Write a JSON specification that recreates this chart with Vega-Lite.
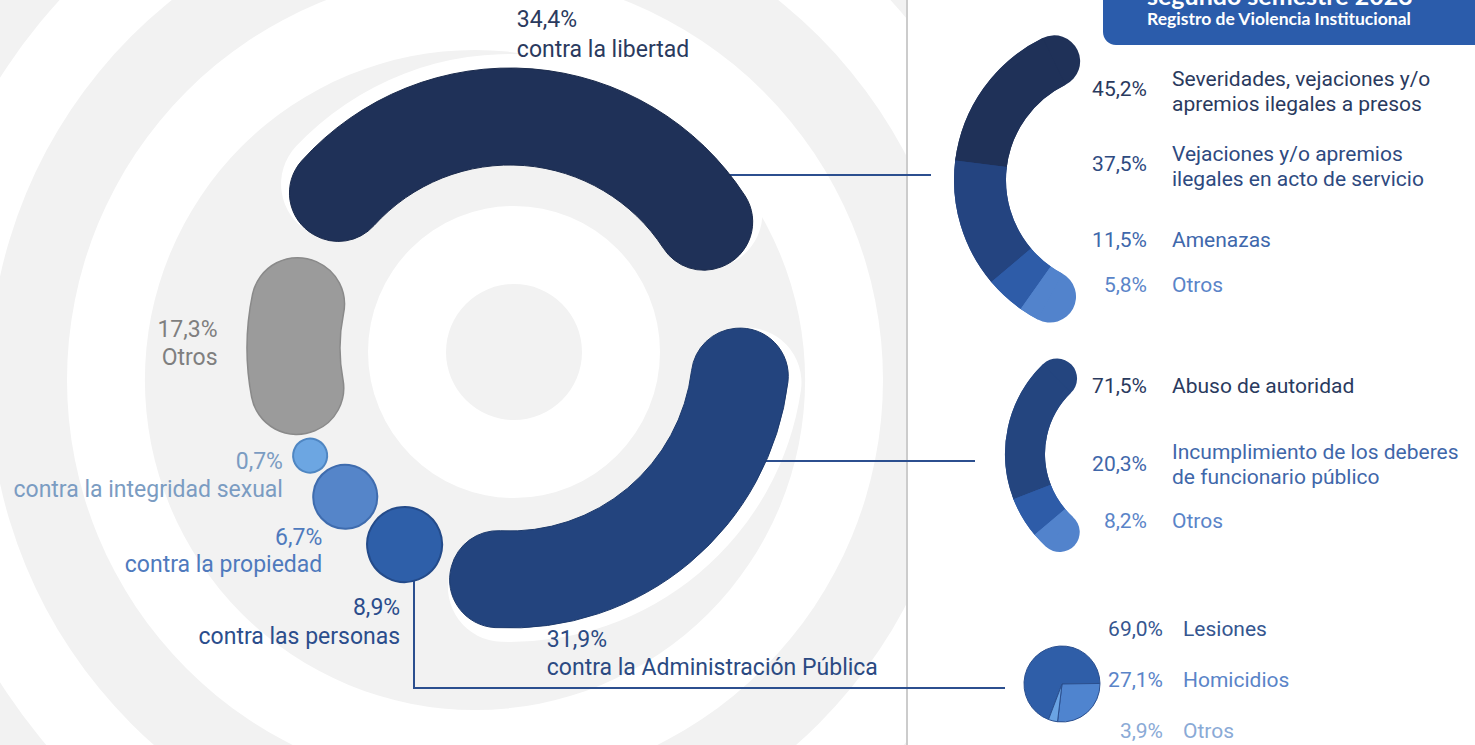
{
  "$schema": "https://vega.github.io/schema/vega-lite/v6.json",
  "width": 1475,
  "height": 745,
  "padding": 0,
  "autosize": {"type": "none"},
  "background": "#f2f2f2",
  "config": {
    "view": {"stroke": null},
    "font": "Roboto",
    "locale": {"number": {"decimal": ",", "thousands": ".", "grouping": [3], "currency": ["$", ""]}}
  },
  "datasets": {
    "principal": [
      {"categoria": "contra la libertad", "pct": 0.344},
      {"categoria": "contra la Administración Pública", "pct": 0.319},
      {"categoria": "contra las personas", "pct": 0.089},
      {"categoria": "contra la propiedad", "pct": 0.067},
      {"categoria": "contra la integridad sexual", "pct": 0.007},
      {"categoria": "Otros", "pct": 0.173}
    ],
    "detalle": [
      {"grupo": "contra la libertad", "categoria": "Severidades, vejaciones y/o\napremios ilegales a presos", "pct": 0.452},
      {"grupo": "contra la libertad", "categoria": "Vejaciones y/o apremios\nilegales en acto de servicio", "pct": 0.375},
      {"grupo": "contra la libertad", "categoria": "Amenazas", "pct": 0.115},
      {"grupo": "contra la libertad", "categoria": "Otros", "pct": 0.058},
      {"grupo": "contra la Administración Pública", "categoria": "Abuso de autoridad", "pct": 0.715},
      {"grupo": "contra la Administración Pública", "categoria": "Incumplimiento de los deberes\nde funcionario público", "pct": 0.203},
      {"grupo": "contra la Administración Pública", "categoria": "Otros", "pct": 0.082},
      {"grupo": "contra las personas", "categoria": "Lesiones", "pct": 0.69},
      {"grupo": "contra las personas", "categoria": "Homicidios", "pct": 0.271},
      {"grupo": "contra las personas", "categoria": "Otros", "pct": 0.039}
    ]
  },
  "layer": [
    {"data": {"values": [{}]}, "mark": {"type": "arc", "x": 475, "y": 380, "radius": 408, "radius2": 330, "theta": 0, "theta2": 6.2832, "fill": "#ffffff"}, "encoding": {}},
    {"data": {"values": [{}]}, "mark": {"type": "arc", "x": 475, "y": 380, "radius": 563, "radius2": 486, "theta": 0, "theta2": 6.2832, "fill": "#ffffff"}, "encoding": {}},
    {"data": {"values": [{}]}, "mark": {"type": "arc", "x": 475, "y": 380, "radius": 717, "radius2": 640, "theta": 0, "theta2": 6.2832, "fill": "#ffffff"}, "encoding": {}},
    {"data": {"values": [{}]}, "mark": {"type": "arc", "x": 475, "y": 380, "radius": 871, "radius2": 794, "theta": 0, "theta2": 6.2832, "fill": "#ffffff"}, "encoding": {}},
    {"data": {"values": [{}]}, "mark": {"type": "arc", "x": 514, "y": 352, "radius": 146, "radius2": 68, "theta": 0, "theta2": 6.2832, "fill": "#ffffff"}, "encoding": {}},
    {"data": {"values": [{}]}, "mark": {"type": "rect", "x": 908, "x2": 1475, "y": 0, "y2": 745, "fill": "#ffffff"}, "encoding": {}},
    {"data": {"values": [{}]}, "mark": {"type": "rect", "x": 906, "x2": 908, "y": 0, "y2": 745, "fill": "#cccccc"}, "encoding": {}},
    {"data": {"values": [{}]}, "mark": {"type": "rect", "x": 1103, "x2": 1495, "y": -30, "y2": 45, "cornerRadius": 13, "fill": "#2b5cab"}, "encoding": {}},
    {"data": {"values": [{}]}, "mark": {"type": "text", "x": 1147, "y": 5, "align": "left", "baseline": "alphabetic", "text": "segundo semestre 2023", "font": "Lato", "fontWeight": "bold", "fontSize": 25, "fill": "#ffffff"}, "encoding": {}},
    {"data": {"values": [{}]}, "mark": {"type": "text", "x": 1147, "y": 20, "align": "left", "baseline": "middle", "text": "Registro de Violencia Institucional", "font": "Lato", "fontWeight": "bold", "fontSize": 17.5, "fill": "#ffffff"}, "encoding": {}},
    {
      "data": {"name": "principal"},
      "transform": [{"window": [{"op": "row_number", "as": "orden"}]}],
      "mark": {"type": "arc", "x": 510, "y": 348, "radius": 294, "radius2": 183, "cornerRadius": 55, "fill": "#ffffff"},
      "encoding": {
        "theta": {"field": "pct", "type": "quantitative", "stack": true, "scale": {"domain": [0, 1], "range": [5.2360, 11.7810]}},
        "order": {"field": "orden", "type": "quantitative"},
        "opacity": {"condition": {"test": "datum.categoria === 'contra la libertad'", "value": 1}, "value": 0}
      }
    },
    {
      "data": {"name": "principal"},
      "transform": [{"window": [{"op": "row_number", "as": "orden"}]}],
      "mark": {"type": "arc", "x": 510, "y": 348, "radius": 294, "radius2": 183, "cornerRadius": 55, "fill": "#ffffff"},
      "encoding": {
        "theta": {"field": "pct", "type": "quantitative", "stack": true, "scale": {"domain": [0, 1], "range": [-0.5864, 5.4315]}},
        "order": {"field": "orden", "type": "quantitative"},
        "opacity": {"condition": {"test": "datum.categoria === 'contra la Administración Pública'", "value": 1}, "value": 0}
      }
    },
    {"data": {"values": [{}]}, "mark": {"type": "rect", "x": 700, "x2": 931, "y": 174, "y2": 176, "fill": "#2c4f8f"}, "encoding": {}},
    {"data": {"values": [{}]}, "mark": {"type": "rect", "x": 740, "x2": 975, "y": 460, "y2": 462, "fill": "#2c4f8f"}, "encoding": {}},
    {"data": {"values": [{}]}, "mark": {"type": "rect", "x": 413, "x2": 415, "y": 560, "y2": 689, "fill": "#2c4f8f"}, "encoding": {}},
    {"data": {"values": [{}]}, "mark": {"type": "rect", "x": 413, "x2": 1005, "y": 687, "y2": 689, "fill": "#2c4f8f"}, "encoding": {}},
    {
      "data": {"name": "principal"},
      "transform": [{"window": [{"op": "row_number", "as": "orden"}]}],
      "mark": {"type": "arc", "x": 510, "y": 348, "radius": 280, "radius2": 183, "cornerRadius": 48, "stroke": "#1a2a4c", "strokeWidth": 1},
      "encoding": {
        "theta": {"field": "pct", "type": "quantitative", "stack": true, "scale": {"domain": [0, 1], "range": [5.2360, 11.7810]}},
        "order": {"field": "orden", "type": "quantitative"},
        "color": {"value": "#1f3158"},
        "opacity": {"condition": {"test": "datum.categoria === 'contra la libertad'", "value": 1}, "value": 0}
      }
    },
    {
      "data": {"name": "principal"},
      "transform": [{"window": [{"op": "row_number", "as": "orden"}]}],
      "mark": {"type": "arc", "x": 510, "y": 348, "radius": 280, "radius2": 183, "cornerRadius": 48, "stroke": "#1d3a6c", "strokeWidth": 1},
      "encoding": {
        "theta": {"field": "pct", "type": "quantitative", "stack": true, "scale": {"domain": [0, 1], "range": [-0.5864, 5.4315]}},
        "order": {"field": "orden", "type": "quantitative"},
        "color": {"value": "#23447e"},
        "opacity": {"condition": {"test": "datum.categoria === 'contra la Administración Pública'", "value": 1}, "value": 0}
      }
    },
    {
      "data": {"name": "principal"},
      "transform": [{"window": [{"op": "row_number", "as": "orden"}]}],
      "mark": {"type": "arc", "x": 510, "y": 348, "radius": 263, "radius2": 170, "cornerRadius": 46, "stroke": "#8a8a8a", "strokeWidth": 1.5},
      "encoding": {
        "theta": {"field": "pct", "type": "quantitative", "stack": true, "scale": {"domain": [0, 1], "range": [0.3944, 5.1365]}},
        "order": {"field": "orden", "type": "quantitative"},
        "color": {"value": "#9b9b9b"},
        "opacity": {"condition": {"test": "datum.categoria === 'Otros'", "value": 1}, "value": 0}
      }
    },
    {
      "data": {"name": "principal"},
      "transform": [{"filter": "datum.categoria === 'contra las personas'"}],
      "mark": {"type": "arc", "x": 510, "y": 348, "radius": 260.5, "radius2": 185.5, "cornerRadius": 37.5, "fill": "#2e5fa9", "stroke": "#244b8a", "strokeWidth": 2},
      "encoding": {
        "theta": {"field": "pct", "type": "quantitative", "stack": true, "scale": {"domain": [0, 0.089], "range": [3.4648, 3.8027]}}
      }
    },
    {
      "data": {"name": "principal"},
      "transform": [{"filter": "datum.categoria === 'contra la propiedad'"}],
      "mark": {"type": "arc", "x": 510, "y": 348, "radius": 254, "radius2": 190, "cornerRadius": 32, "fill": "#5585c9", "stroke": "#3f6cae", "strokeWidth": 2},
      "encoding": {
        "theta": {"field": "pct", "type": "quantitative", "stack": true, "scale": {"domain": [0, 0.067], "range": [3.833, 4.1225]}}
      }
    },
    {
      "data": {"name": "principal"},
      "transform": [{"filter": "datum.categoria === 'contra la integridad sexual'"}],
      "mark": {"type": "arc", "x": 510, "y": 348, "radius": 244, "radius2": 210, "cornerRadius": 17, "fill": "#6ca6e2", "stroke": "#4f86c2", "strokeWidth": 2},
      "encoding": {
        "theta": {"field": "pct", "type": "quantitative", "stack": true, "scale": {"domain": [0, 0.007], "range": [4.1434, 4.2935]}}
      }
    },
    {
      "data": {"name": "principal"},
      "transform": [{"filter": "datum.categoria === 'Otros'"}],
      "mark": {"type": "text", "x": 510, "y": 348, "radius": 293, "align": "right", "baseline": "middle", "fontSize": 23, "fill": "#7f7f7f"},
      "encoding": {
        "theta": {"field": "pct", "type": "quantitative", "stack": true, "scale": {"domain": [0, 1], "range": [4.2307, 10.5139]}},
        "text": {"field": "pct", "type": "quantitative", "format": ".1%"}
      }
    },
    {
      "data": {"name": "principal"},
      "transform": [{"filter": "datum.categoria === 'Otros'"}],
      "mark": {"type": "text", "x": 510, "y": 348, "radius": 293, "dy": 28, "align": "right", "baseline": "middle", "fontSize": 23, "fill": "#7f7f7f"},
      "encoding": {
        "theta": {"field": "pct", "type": "quantitative", "stack": true, "scale": {"domain": [0, 1], "range": [4.2307, 10.5139]}},
        "text": {"field": "categoria", "type": "nominal"}
      }
    },
    {
      "data": {"name": "principal"},
      "transform": [{"filter": "datum.categoria === 'contra la integridad sexual'"}],
      "mark": {"type": "text", "x": 510, "y": 348, "radius": 254, "align": "right", "baseline": "middle", "fontSize": 23, "fill": "#7b9cc2"},
      "encoding": {
        "theta": {"field": "pct", "type": "quantitative", "stack": true, "scale": {"domain": [0, 1], "range": [4.2254, 10.5086]}},
        "text": {"field": "pct", "type": "quantitative", "format": ".1%"}
      }
    },
    {
      "data": {"name": "principal"},
      "transform": [{"filter": "datum.categoria === 'contra la integridad sexual'"}],
      "mark": {"type": "text", "x": 510, "y": 348, "radius": 254, "dy": 28, "align": "right", "baseline": "middle", "fontSize": 23, "fill": "#7b9cc2"},
      "encoding": {
        "theta": {"field": "pct", "type": "quantitative", "stack": true, "scale": {"domain": [0, 1], "range": [4.2254, 10.5086]}},
        "text": {"field": "categoria", "type": "nominal"}
      }
    },
    {
      "data": {"name": "principal"},
      "transform": [{"filter": "datum.categoria === 'contra la propiedad'"}],
      "mark": {"type": "text", "x": 510, "y": 348, "radius": 267, "align": "right", "baseline": "middle", "fontSize": 23, "fill": "#4f7abd"},
      "encoding": {
        "theta": {"field": "pct", "type": "quantitative", "stack": true, "scale": {"domain": [0, 1], "range": [3.7106, 9.9938]}},
        "text": {"field": "pct", "type": "quantitative", "format": ".1%"}
      }
    },
    {
      "data": {"name": "principal"},
      "transform": [{"filter": "datum.categoria === 'contra la propiedad'"}],
      "mark": {"type": "text", "x": 510, "y": 348, "radius": 267, "dy": 27, "align": "right", "baseline": "middle", "fontSize": 23, "fill": "#4f7abd"},
      "encoding": {
        "theta": {"field": "pct", "type": "quantitative", "stack": true, "scale": {"domain": [0, 1], "range": [3.7106, 9.9938]}},
        "text": {"field": "categoria", "type": "nominal"}
      }
    },
    {
      "data": {"name": "principal"},
      "transform": [{"filter": "datum.categoria === 'contra las personas'"}],
      "mark": {"type": "text", "x": 510, "y": 348, "radius": 282, "align": "right", "baseline": "middle", "fontSize": 23, "fill": "#2b4d8c"},
      "encoding": {
        "theta": {"field": "pct", "type": "quantitative", "stack": true, "scale": {"domain": [0, 1], "range": [3.262, 9.5452]}},
        "text": {"field": "pct", "type": "quantitative", "format": ".1%"}
      }
    },
    {
      "data": {"name": "principal"},
      "transform": [{"filter": "datum.categoria === 'contra las personas'"}],
      "mark": {"type": "text", "x": 510, "y": 348, "radius": 282, "dy": 29, "align": "right", "baseline": "middle", "fontSize": 23, "fill": "#2b4d8c"},
      "encoding": {
        "theta": {"field": "pct", "type": "quantitative", "stack": true, "scale": {"domain": [0, 1], "range": [3.262, 9.5452]}},
        "text": {"field": "categoria", "type": "nominal"}
      }
    },
    {
      "data": {"name": "principal"},
      "transform": [{"filter": "datum.categoria === 'contra la libertad'"}],
      "mark": {"type": "text", "x": 510, "y": 348, "radius": 328, "align": "left", "baseline": "middle", "fontSize": 23, "fill": "#2a3a5e"},
      "encoding": {
        "theta": {"field": "pct", "type": "quantitative", "stack": true, "scale": {"domain": [0, 1], "range": [-1.0598, 5.2234]}},
        "text": {"field": "pct", "type": "quantitative", "format": ".1%"}
      }
    },
    {
      "data": {"name": "principal"},
      "transform": [{"filter": "datum.categoria === 'contra la libertad'"}],
      "mark": {"type": "text", "x": 510, "y": 348, "radius": 328, "dy": 30, "align": "left", "baseline": "middle", "fontSize": 23, "fill": "#2a3a5e"},
      "encoding": {
        "theta": {"field": "pct", "type": "quantitative", "stack": true, "scale": {"domain": [0, 1], "range": [-1.0598, 5.2234]}},
        "text": {"field": "categoria", "type": "nominal"}
      }
    },
    {
      "data": {"name": "principal"},
      "transform": [{"filter": "datum.categoria === 'contra la Administración Pública'"}],
      "mark": {"type": "text", "x": 510, "y": 348, "radius": 294, "align": "left", "baseline": "middle", "fontSize": 23, "fill": "#2b4a82"},
      "encoding": {
        "theta": {"field": "pct", "type": "quantitative", "stack": true, "scale": {"domain": [0, 1], "range": [2.0138, 8.297]}},
        "text": {"field": "pct", "type": "quantitative", "format": ".1%"}
      }
    },
    {
      "data": {"name": "principal"},
      "transform": [{"filter": "datum.categoria === 'contra la Administración Pública'"}],
      "mark": {"type": "text", "x": 510, "y": 348, "radius": 294, "dy": 28, "align": "left", "baseline": "middle", "fontSize": 23, "fill": "#2b4a82"},
      "encoding": {
        "theta": {"field": "pct", "type": "quantitative", "stack": true, "scale": {"domain": [0, 1], "range": [2.0138, 8.297]}},
        "text": {"field": "categoria", "type": "nominal"}
      }
    },
    {
      "data": {"name": "detalle"},
      "transform": [{"filter": "datum.grupo === 'contra la libertad'"}, {"window": [{"op": "row_number", "as": "orden"}]}],
      "mark": {"type": "arc", "x": 1112, "y": 180, "radius": 132, "radius2": 132, "filled": false, "strokeWidth": 52, "strokeJoin": "round"},
      "encoding": {
        "theta": {"field": "pct", "type": "quantitative", "stack": true, "scale": {"domain": [0, 1], "range": [5.8294, 3.6303]}},
        "order": {"field": "orden", "type": "quantitative"},
        "color": {"field": "categoria", "type": "nominal", "scale": {"domain": ["Severidades, vejaciones y/o\napremios ilegales a presos", "Vejaciones y/o apremios\nilegales en acto de servicio", "Amenazas", "Otros"], "range": ["#1f3158", "#244480", "#2e5ca8", "#5283cc"]}, "legend": null}
      }
    },
    {
      "data": {"name": "detalle"},
      "transform": [{"filter": "datum.grupo === 'contra la libertad'"}, {"window": [{"op": "row_number", "as": "orden"}]}],
      "mark": {"type": "arc", "x": 1112, "y": 180, "radius": 158, "radius2": 106},
      "encoding": {
        "theta": {"field": "pct", "type": "quantitative", "stack": true, "scale": {"domain": [0, 1], "range": [5.8294, 3.6303]}},
        "order": {"field": "orden", "type": "quantitative"},
        "color": {"field": "categoria", "type": "nominal", "scale": {"domain": ["Severidades, vejaciones y/o\napremios ilegales a presos", "Vejaciones y/o apremios\nilegales en acto de servicio", "Amenazas", "Otros"], "range": ["#1f3158", "#244480", "#2e5ca8", "#5283cc"]}, "legend": null}
      }
    },
    {
      "data": {"name": "detalle"},
      "transform": [{"filter": "datum.grupo === 'contra la Administración Pública'"}, {"window": [{"op": "row_number", "as": "orden"}]}],
      "mark": {"type": "arc", "x": 1130, "y": 454, "radius": 105, "radius2": 105, "filled": false, "strokeWidth": 40, "strokeJoin": "round"},
      "encoding": {
        "theta": {"field": "pct", "type": "quantitative", "stack": true, "scale": {"domain": [0, 1], "range": [5.5152, 3.8746]}},
        "order": {"field": "orden", "type": "quantitative"},
        "color": {"field": "categoria", "type": "nominal", "scale": {"domain": ["Abuso de autoridad", "Incumplimiento de los deberes\nde funcionario público", "Otros"], "range": ["#24457f", "#2e5ca8", "#5283cc"]}, "legend": null}
      }
    },
    {
      "data": {"name": "detalle"},
      "transform": [{"filter": "datum.grupo === 'contra la Administración Pública'"}, {"window": [{"op": "row_number", "as": "orden"}]}],
      "mark": {"type": "arc", "x": 1130, "y": 454, "radius": 125, "radius2": 85},
      "encoding": {
        "theta": {"field": "pct", "type": "quantitative", "stack": true, "scale": {"domain": [0, 1], "range": [5.5152, 3.8746]}},
        "order": {"field": "orden", "type": "quantitative"},
        "color": {"field": "categoria", "type": "nominal", "scale": {"domain": ["Abuso de autoridad", "Incumplimiento de los deberes\nde funcionario público", "Otros"], "range": ["#24457f", "#2e5ca8", "#5283cc"]}, "legend": null}
      }
    },
    {
      "data": {"name": "detalle"},
      "transform": [{"filter": "datum.grupo === 'contra las personas'"}, {"window": [{"op": "row_number", "as": "orden"}]}],
      "mark": {"type": "arc", "x": 1062, "y": 684, "radius": 38, "stroke": "#2a4f8f", "strokeWidth": 1},
      "encoding": {
        "theta": {"field": "pct", "type": "quantitative", "stack": true, "scale": {"domain": [0, 1], "range": [-2.7786, 3.5046]}},
        "order": {"field": "orden", "type": "quantitative"},
        "color": {"field": "categoria", "type": "nominal", "scale": {"domain": ["Lesiones", "Homicidios", "Otros"], "range": ["#2f5ea8", "#4f84cf", "#6aa3e3"]}, "legend": null}
      }
    },
    {
      "data": {"name": "detalle"},
      "transform": [{"filter": "datum.grupo === 'contra la libertad'"}, {"filter": "indexof(datum.categoria, '\\n') >= 0"}],
      "mark": {"type": "text", "x": 1147, "align": "right", "baseline": "middle", "fontSize": 21},
      "encoding": {
        "y": {"field": "categoria", "type": "nominal", "scale": {"type": "point", "domain": ["Severidades, vejaciones y/o\napremios ilegales a presos", "Vejaciones y/o apremios\nilegales en acto de servicio"], "range": [90, 165], "padding": 0}, "axis": null},
        "text": {"field": "pct", "type": "quantitative", "format": ".1%"},
        "color": {"field": "categoria", "type": "nominal", "scale": {"domain": ["Severidades, vejaciones y/o\napremios ilegales a presos", "Vejaciones y/o apremios\nilegales en acto de servicio"], "range": ["#2a3a5e", "#2e4a80"]}, "legend": null}
      }
    },
    {
      "data": {"name": "detalle"},
      "transform": [{"filter": "datum.grupo === 'contra la libertad'"}, {"filter": "indexof(datum.categoria, '\\n') >= 0"}],
      "mark": {"type": "text", "x": 1172, "dy": -10.5, "align": "left", "baseline": "middle", "fontSize": 21, "lineBreak": "\n", "lineHeight": 25},
      "encoding": {
        "y": {"field": "categoria", "type": "nominal", "scale": {"type": "point", "domain": ["Severidades, vejaciones y/o\napremios ilegales a presos", "Vejaciones y/o apremios\nilegales en acto de servicio"], "range": [90, 165], "padding": 0}, "axis": null},
        "text": {"field": "categoria", "type": "nominal"},
        "color": {"field": "categoria", "type": "nominal", "scale": {"domain": ["Severidades, vejaciones y/o\napremios ilegales a presos", "Vejaciones y/o apremios\nilegales en acto de servicio"], "range": ["#2a3a5e", "#2e4a80"]}, "legend": null}
      }
    },
    {
      "data": {"name": "detalle"},
      "transform": [{"filter": "datum.grupo === 'contra la libertad'"}, {"filter": "indexof(datum.categoria, '\\n') < 0"}],
      "mark": {"type": "text", "x": 1147, "align": "right", "baseline": "middle", "fontSize": 21},
      "encoding": {
        "y": {"field": "categoria", "type": "nominal", "scale": {"type": "point", "domain": ["Amenazas", "Otros"], "range": [241, 286], "padding": 0}, "axis": null},
        "text": {"field": "pct", "type": "quantitative", "format": ".1%"},
        "color": {"field": "categoria", "type": "nominal", "scale": {"domain": ["Amenazas", "Otros"], "range": ["#4068ac", "#5a84c8"]}, "legend": null}
      }
    },
    {
      "data": {"name": "detalle"},
      "transform": [{"filter": "datum.grupo === 'contra la libertad'"}, {"filter": "indexof(datum.categoria, '\\n') < 0"}],
      "mark": {"type": "text", "x": 1172, "align": "left", "baseline": "middle", "fontSize": 21},
      "encoding": {
        "y": {"field": "categoria", "type": "nominal", "scale": {"type": "point", "domain": ["Amenazas", "Otros"], "range": [241, 286], "padding": 0}, "axis": null},
        "text": {"field": "categoria", "type": "nominal"},
        "color": {"field": "categoria", "type": "nominal", "scale": {"domain": ["Amenazas", "Otros"], "range": ["#4068ac", "#5a84c8"]}, "legend": null}
      }
    },
    {
      "data": {"name": "detalle"},
      "transform": [{"filter": "datum.grupo === 'contra la Administración Pública'"}, {"filter": "indexof(datum.categoria, '\\n') >= 0"}],
      "mark": {"type": "text", "x": 1147, "align": "right", "baseline": "middle", "fontSize": 21},
      "encoding": {
        "y": {"field": "categoria", "type": "nominal", "scale": {"type": "point", "domain": ["Incumplimiento de los deberes\nde funcionario público"], "range": [465, 465], "padding": 0}, "axis": null},
        "text": {"field": "pct", "type": "quantitative", "format": ".1%"},
        "color": {"value": "#3f67aa"}
      }
    },
    {
      "data": {"name": "detalle"},
      "transform": [{"filter": "datum.grupo === 'contra la Administración Pública'"}, {"filter": "indexof(datum.categoria, '\\n') >= 0"}],
      "mark": {"type": "text", "x": 1172, "dy": -12.5, "align": "left", "baseline": "middle", "fontSize": 21, "lineBreak": "\n", "lineHeight": 25},
      "encoding": {
        "y": {"field": "categoria", "type": "nominal", "scale": {"type": "point", "domain": ["Incumplimiento de los deberes\nde funcionario público"], "range": [465, 465], "padding": 0}, "axis": null},
        "text": {"field": "categoria", "type": "nominal"},
        "color": {"value": "#3f67aa"}
      }
    },
    {
      "data": {"name": "detalle"},
      "transform": [{"filter": "datum.grupo === 'contra la Administración Pública'"}, {"filter": "indexof(datum.categoria, '\\n') < 0"}],
      "mark": {"type": "text", "x": 1147, "align": "right", "baseline": "middle", "fontSize": 21},
      "encoding": {
        "y": {"field": "categoria", "type": "nominal", "scale": {"type": "point", "domain": ["Abuso de autoridad", "Otros"], "range": [387, 522], "padding": 0}, "axis": null},
        "text": {"field": "pct", "type": "quantitative", "format": ".1%"},
        "color": {"field": "categoria", "type": "nominal", "scale": {"domain": ["Abuso de autoridad", "Otros"], "range": ["#2a3a5e", "#5a84c8"]}, "legend": null}
      }
    },
    {
      "data": {"name": "detalle"},
      "transform": [{"filter": "datum.grupo === 'contra la Administración Pública'"}, {"filter": "indexof(datum.categoria, '\\n') < 0"}],
      "mark": {"type": "text", "x": 1172, "align": "left", "baseline": "middle", "fontSize": 21},
      "encoding": {
        "y": {"field": "categoria", "type": "nominal", "scale": {"type": "point", "domain": ["Abuso de autoridad", "Otros"], "range": [387, 522], "padding": 0}, "axis": null},
        "text": {"field": "categoria", "type": "nominal"},
        "color": {"field": "categoria", "type": "nominal", "scale": {"domain": ["Abuso de autoridad", "Otros"], "range": ["#2a3a5e", "#5a84c8"]}, "legend": null}
      }
    },
    {
      "data": {"name": "detalle"},
      "transform": [{"filter": "datum.grupo === 'contra las personas'"}],
      "mark": {"type": "text", "x": 1163, "align": "right", "baseline": "middle", "fontSize": 21},
      "encoding": {
        "y": {"field": "categoria", "type": "nominal", "scale": {"type": "point", "domain": ["Lesiones", "Homicidios", "Otros"], "range": [630, 732], "padding": 0}, "axis": null},
        "text": {"field": "pct", "type": "quantitative", "format": ".1%"},
        "color": {"field": "categoria", "type": "nominal", "scale": {"domain": ["Lesiones", "Homicidios", "Otros"], "range": ["#35568f", "#5a84c8", "#8aaad6"]}, "legend": null}
      }
    },
    {
      "data": {"name": "detalle"},
      "transform": [{"filter": "datum.grupo === 'contra las personas'"}],
      "mark": {"type": "text", "x": 1183, "align": "left", "baseline": "middle", "fontSize": 21},
      "encoding": {
        "y": {"field": "categoria", "type": "nominal", "scale": {"type": "point", "domain": ["Lesiones", "Homicidios", "Otros"], "range": [630, 732], "padding": 0}, "axis": null},
        "text": {"field": "categoria", "type": "nominal"},
        "color": {"field": "categoria", "type": "nominal", "scale": {"domain": ["Lesiones", "Homicidios", "Otros"], "range": ["#35568f", "#5a84c8", "#8aaad6"]}, "legend": null}
      }
    }
  ],
  "resolve": {"scale": {"theta": "independent", "color": "independent", "stroke": "independent", "opacity": "independent", "size": "independent", "y": "independent", "x": "independent"}}
}
